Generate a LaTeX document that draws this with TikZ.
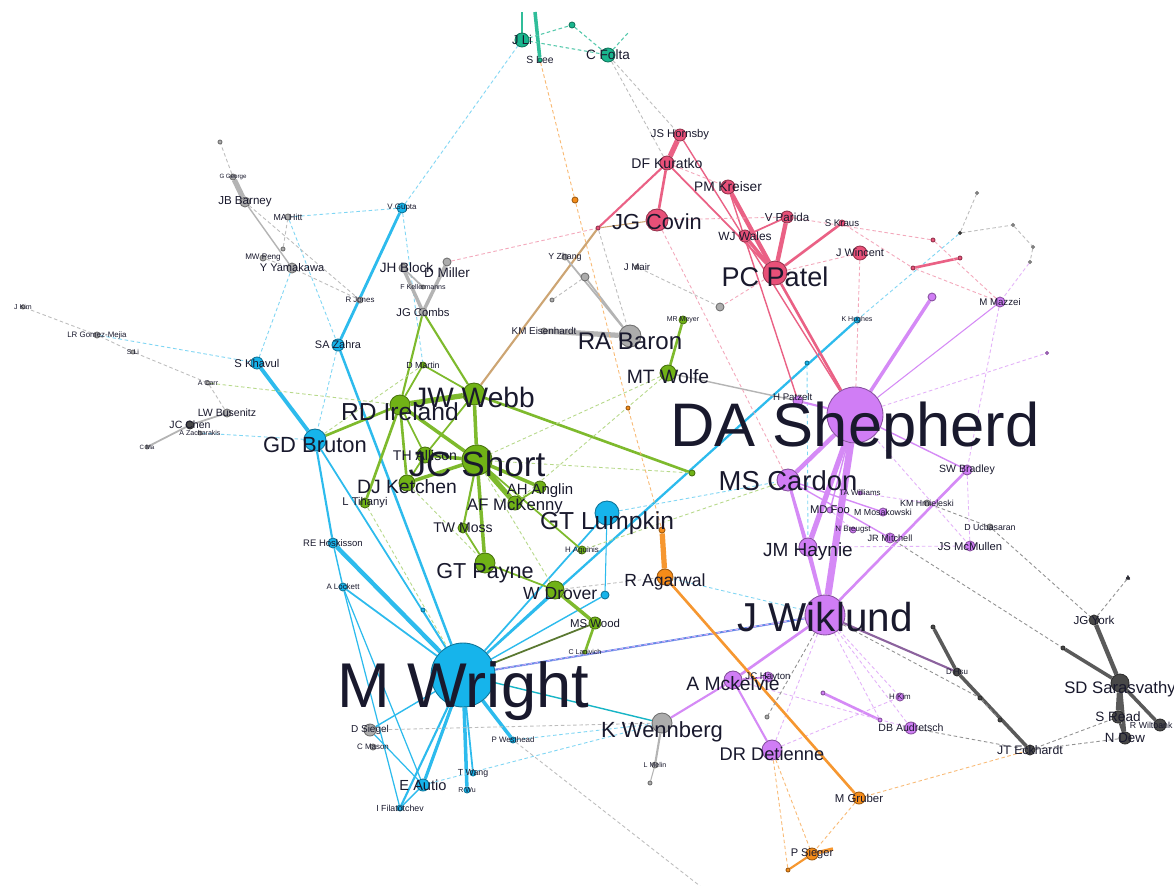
\documentclass[tikz,border=0pt]{standalone}
\usepackage{fontspec}
\setmainfont{Liberation Sans}
\usetikzlibrary{backgrounds}

\definecolor{cblue}{RGB}{22,180,235}
\definecolor{cgreen}{RGB}{112,178,22}
\definecolor{cpink}{RGB}{232,80,120}
\definecolor{cpurp}{RGB}{208,125,245}
\definecolor{cgrey}{RGB}{172,172,172}
\definecolor{cdark}{RGB}{72,72,72}
\definecolor{cteal}{RGB}{25,182,142}
\definecolor{corng}{RGB}{245,140,25}
\definecolor{ctan}{RGB}{205,165,115}
\definecolor{croyal}{RGB}{95,135,230}
\definecolor{ink}{RGB}{25,25,45}

\tikzset{
  vtx/.style={circle, inner sep=0pt, line width=0.5pt, minimum size=#1*0.04cm},
  bn/.style={vtx=#1, fill=cblue, draw=cblue!65!black},
  gn/.style={vtx=#1, fill=cgreen, draw=cgreen!65!black},
  pn/.style={vtx=#1, fill=cpink, draw=cpink!65!black},
  un/.style={vtx=#1, fill=cpurp, draw=cpurp!65!black},
  kn/.style={vtx=#1, fill=cgrey, draw=cgrey!65!black},
  dn/.style={vtx=#1, fill=cdark, draw=cdark!65!black},
  tn/.style={vtx=#1, fill=cteal, draw=cteal!65!black},
  orn/.style={vtx=#1, fill=corng, draw=corng!65!black},
  lab/.style={font=\fontsize{#1}{#1}\selectfont, text=ink, inner sep=0pt},
  be/.style={draw=cblue!90, line width=#1}, be/.default=0.8pt,
  ge/.style={draw=cgreen!90, line width=#1}, ge/.default=0.8pt,
  pe/.style={draw=cpink!90, line width=#1}, pe/.default=0.8pt,
  ue/.style={draw=cpurp!90, line width=#1}, ue/.default=0.8pt,
  oe/.style={draw=corng!90, line width=#1}, oe/.default=0.8pt,
  ke/.style={draw=cgrey!90, line width=#1}, ke/.default=0.8pt,
  de/.style={draw=cdark!90, line width=#1}, de/.default=0.8pt,
  te/.style={draw=cteal!90, line width=#1}, te/.default=0.8pt,
  bd/.style={draw=cblue!55, line width=0.5pt, dash pattern=on 2pt off 1.5pt},
  gd/.style={draw=cgreen!50, line width=0.5pt, dash pattern=on 2pt off 1.5pt},
  pd/.style={draw=cpink!50, line width=0.5pt, dash pattern=on 2pt off 1.5pt},
  ud/.style={draw=cpurp!60, line width=0.5pt, dash pattern=on 2pt off 1.5pt},
  od/.style={draw=corng!60, line width=0.5pt, dash pattern=on 2pt off 1.5pt},
  kd/.style={draw=cgrey!80, line width=0.5pt, dash pattern=on 2pt off 1.5pt},
  dd/.style={draw=cdark!60, line width=0.5pt, dash pattern=on 2pt off 1.5pt},
  td/.style={draw=cteal!75, line width=0.6pt, dash pattern=on 2pt off 1.5pt},
}

\begin{document}
\begin{tikzpicture}[x=0.02cm, y=-0.02cm]
\useasboundingbox (0,0) rectangle (1174,886);

% Left scatter
\node[kn=2, label={[lab=4]center:J Kim}] (x1) at (23,307) {};
\node[kn=3, label={[lab=4.5]center:LR Gomez-Mejia}] (x2) at (97,335) {};
\node[kn=2, label={[lab=4]center:S Li}] (x3) at (133,352) {};
\node[kn=2, label={[lab=4]center:A Carr}] (x4) at (208,383) {};
\node[kn=4, label={[lab=6]center:LW Busenitz}] (lwb) at (227,413) {};
\node[dn=4, label={[lab=6]center:JC Chen}] (jcc) at (190,425) {};
\node[kn=2, label={[lab=4]center:A Zacharakis}] (x5) at (200,433) {};
\node[kn=2, label={[lab=3.5]center:C Ma}] (x6) at (147,447) {};

% Top left
\node[kn=2] (x7) at (220,142) {};
\node[kn=3, label={[lab=3.5]center:G George}] (x8) at (233,177) {};
\node[kn=5, label={[lab=6.6]center:JB Barney}] (jbb) at (245,202) {};
\node[kn=3, label={[lab=5]center:MA Hitt}] (mah) at (288,217) {};
\node[kn=2] (x9) at (283,249) {};
\node[kn=3, label={[lab=4.6]center:MW Peng}] (mwp) at (263,258) {};
\node[kn=5, label={[lab=6.3]center:Y Yamakawa}] (yya) at (292,268) {};
\node[kn=3, label={[lab=4.5]center:R Jones}] (x15) at (360,300) {};
\node[kn=4, label={[lab=7.7,xshift=2pt]center:JH Block}] (jhb) at (403,268) {};
\node[kn=4, label={[lab=7.7,yshift=-6pt]center:D Miller}] (dmi) at (447,262) {};
\node[kn=2, label={[lab=4]center:F Kellermanns}] (x20) at (423,287) {};
\node[kn=4, label={[lab=6.4]center:JG Combs}] (jgb) at (423,312) {};

% Top teal
\node[tn=7, label={[lab=7.3]center:J Li}] (jli) at (522,40) {};
\node[tn=2, label={[lab=5.9]center:S Lee}] (sle) at (540,60) {};
\node[tn=3] (x26) at (572,25) {};
\node[tn=7, label={[lab=7.7]center:C Folta}] (cfo) at (608,55) {};
\coordinate (t1) at (522,12);
\coordinate (t2) at (535,12);
\coordinate (t3) at (628,33);

% Blue small
\node[bn=5, label={[lab=4.5]center:V Gupta}] (vg) at (402,208) {};
\node[bn=6, label={[lab=6.2]center:SA Zahra}] (saz) at (338,345) {};
\node[bn=6, label={[lab=6.4]center:S Khavul}] (skh) at (257,363) {};
\node[bn=5, label={[lab=5.4]center:RE Hoskisson}] (reh) at (333,543) {};
\node[bn=4, label={[lab=4.5]center:A Lockett}] (alk) at (343,587) {};
\node[bn=2] (x14) at (423,610) {};
\node[kn=6, label={[lab=5.7]center:D Siegel}] (dsi) at (370,730) {};
\node[kn=3, label={[lab=4.5]center:C Mason}] (cma) at (373,747) {};
\node[bn=6, label={[lab=8.3]center:E Autio}] (eau) at (423,785) {};
\node[bn=3, label={[lab=5]center:I Filatotchev}] (ifi) at (400,808) {};
\node[bn=3, label={[lab=5]center:T Wang}] (twa) at (473,773) {};
\node[bn=3, label={[lab=4]center:R Wu}] (x10) at (467,790) {};
\node[bn=3, label={[lab=4.5]center:P Westhead}] (pwe) at (513,740) {};
\node[bn=4] (x11) at (605,595) {};
\node[bn=3, label={[lab=4]center:K Hughes}] (x12) at (857,320) {};
\node[bn=2] (x13) at (807,363) {};
\coordinate (t4) at (700,886);

% Green small
\node[gn=3, label={[lab=5]center:D Martin}] (x16) at (423,365) {};
\node[gn=5, label={[lab=6.4]center:L Tihanyi}] (lti) at (365,503) {};
\node[gn=8, label={[lab=8]center:TH Allison}] (tha) at (425,455) {};
\node[gn=5, label={[lab=8]center:TW Moss}] (twm) at (463,528) {};
\node[gn=7, label={[lab=9.5,yshift=-2pt]center:AF McKenny}] (afm) at (515,503) {};
\node[gn=6, label={[lab=8.5,yshift=-2pt]center:AH Anglin}] (aha) at (540,487) {};
\node[gn=4, label={[lab=4.5]center:H Aguinis}] (hag) at (582,550) {};
\node[gn=6, label={[lab=6.5]center:MS Wood}] (msw) at (595,623) {};
\node[gn=2, label={[lab=4]center:C Lanivich}] (x17) at (585,652) {};
\node[gn=3] (x18) at (692,473) {};
\node[gn=4, label={[lab=4]center:MR Meyer}] (x19) at (683,320) {};

% Grey middle
\node[kn=3, label={[lab=5.6]center:KM Eisenhardt}] (kme) at (544,331) {};
\node[kn=4] (x21) at (585,277) {};
\node[kn=3, label={[lab=5]center:Y Zhang}] (yzh) at (565,257) {};
\node[kn=2, label={[lab=5.5]center:J Mair}] (jma) at (637,267) {};
\node[kn=4] (x22) at (720,307) {};
\node[kn=2] (x23) at (552,300) {};
\node[kn=3, label={[lab=4]center:L Melin}] (x24) at (655,765) {};
\node[kn=2] (x25) at (650,783) {};

% Orange
\node[orn=3] (x27) at (575,200) {};
\node[orn=2] (x28) at (628,408) {};
\node[orn=3] (x29) at (662,530) {};
\node[orn=6, label={[lab=6.5]center:M Gruber}] (mgr) at (859,798) {};
\node[orn=6, label={[lab=6.3]center:P Sieger}] (psi) at (812,854) {};
\node[orn=2] (x30) at (788,870) {};
\coordinate (x31) at (833,849);

% Pink
\node[pn=2] (x32) at (598,228) {};
\node[pn=6, label={[lab=6.4]center:JS Hornsby}] (jsh) at (680,135) {};
\node[pn=7, label={[lab=8]center:DF Kuratko}] (dfk) at (667,163) {};
\node[pn=7, label={[lab=7.8]center:PM Kreiser}] (pmk) at (728,187) {};
\node[pn=6, label={[lab=6.6]center:V Parida}] (vpa) at (787,217) {};
\node[pn=6, label={[lab=6.8]center:WJ Wales}] (wjw) at (745,236) {};
\node[pn=3, label={[lab=5.5]center:S Kraus}] (skr) at (842,223) {};
\node[pn=7, label={[lab=6.2]center:J Wincent}] (jwi) at (860,253) {};
\node[pn=2] (x33) at (913,268) {};
\node[pn=2] (x34) at (960,258) {};
\node[pn=2] (x35) at (933,240) {};

% Purple small
\node[un=5, label={[lab=5.5,xshift=-3pt,yshift=2pt]center:H Patzelt}] (hpa) at (798,401) {};
\node[un=4] (x36) at (932,297) {};
\node[un=5, label={[lab=5.5]center:M Mazzei}] (mma) at (1000,302) {};
\node[un=2, label={[lab=4.5]center:TA Williams}] (taw) at (860,493) {};
\node[un=3, label={[lab=6.4]center:MD Foo}] (mdf) at (830,510) {};
\node[un=4, label={[lab=5]center:M Mosakowski}] (mmo) at (883,512) {};
\node[un=3, label={[lab=4.5]center:N Breugst}] (nbr) at (853,530) {};
\node[un=5, label={[lab=5.2]center:JR Mitchell}] (jrm) at (890,538) {};
\node[kn=3, label={[lab=5]center:KM Hmieleski}] (kmh) at (927,503) {};
\node[kn=3, label={[lab=5]center:D Ucbasaran}] (duc) at (990,527) {};
\node[un=5, label={[lab=6]center:SW Bradley}] (swb) at (967,470) {};
\node[un=5, label={[lab=6.4]center:JS McMullen}] (jsm) at (970,546) {};
\node[un=5, label={[lab=5.5]center:JC Hayton}] (jch) at (768,677) {};
\node[kn=2] (x37) at (767,717) {};
\node[un=2] (x38) at (823,693) {};
\node[un=4, label={[lab=4.5]center:H Kim}] (hki) at (900,697) {};
\node[un=2] (x39) at (880,720) {};
\node[un=6, label={[lab=6]center:DB Audretsch}] (dba) at (911,728) {};
\node[un=1.5] (x51) at (1047,353) {};

% Dark cluster
\node[dn=2] (x40) at (933,627) {};
\node[dn=4, label={[lab=4.5]center:D Hsu}] (x41) at (957,672) {};
\node[dn=2] (x42) at (980,698) {};
\node[dn=2] (x43) at (1000,720) {};
\node[dn=2] (x44) at (1063,648) {};
\node[dn=1.5, label={[lab=4]center:A}] (x45) at (1128,578) {};
\node[dn=1.5] (x46) at (960,233) {};
\node[kn=1.5] (x47) at (977,193) {};
\node[kn=1.5] (x48) at (1013,225) {};
\node[kn=1.5] (x49) at (1033,247) {};
\node[kn=1.5] (x50) at (1030,262) {};
\node[dn=5, label={[lab=7]center:JT Eckhardt}] (jte) at (1030,750) {};
\node[dn=5, label={[lab=6.6]center:JG York}] (jgy) at (1094,620) {};
\node[dn=6, label={[lab=7.6]center:N Dew}] (nde) at (1125,738) {};
\node[dn=6, label={[lab=5,xshift=-5pt]center:R Wiltbank}] (rwi) at (1160,725) {};
\node[dn=6, label={[lab=7.7]center:S Read}] (sre) at (1118,717) {};
\node[dn=9, label={[lab=9.5,yshift=-3.5pt]center:SD Sarasvathy}] (sds) at (1120,683) {};

% Mid-size nodes
\node[gn=8, label={[lab=11,yshift=-2pt]center:MT Wolfe}] (mtw) at (668,373) {};
\node[kn=11, label={[lab=13.7,yshift=-3pt]center:RA Baron}] (rab) at (630,336) {};
\node[pn=11, label={[lab=12.4,yshift=-1pt]center:JG Covin}] (jgc) at (657,220) {};
\node[pn=12, label={[lab=15.4,yshift=-2pt]center:PC Patel}] (pcp) at (775,273) {};
\node[orn=8, label={[lab=10,yshift=-3pt]center:R Agarwal}] (rag) at (665,577) {};
\node[kn=10, label={[lab=12.5,yshift=-5pt]center:K Wennberg}] (kwe) at (662,723) {};
\node[un=9, label={[lab=11,yshift=-2pt]center:A Mckelvie}] (amk) at (733,680) {};
\node[un=10, label={[lab=10.4,yshift=-2pt]center:DR Detienne}] (drd) at (772,750) {};
\node[un=9, label={[lab=10.8,yshift=-2.5pt]center:JM Haynie}] (jmh) at (808,547) {};
\node[un=11, label={[lab=15.6,yshift=-0.5pt]center:MS Cardon}] (msc) at (788,480) {};
\node[gn=9, label={[lab=10,xshift=3pt,yshift=-2pt]center:W Drover}] (wdr) at (555,590) {};
\node[gn=10, label={[lab=12.3,yshift=-6pt]center:GT Payne}] (gtp) at (485,563) {};
\node[gn=8, label={[lab=11,yshift=-2pt]center:DJ Ketchen}] (djk) at (407,483) {};
\node[gn=10, label={[lab=14,yshift=-4pt]center:RD Ireland}] (rdi) at (400,405) {};
\node[bn=11, label={[lab=12.5,yshift=-3pt]center:GD Bruton}] (gdb) at (315,440) {};
\node[gn=11, label={[lab=16,yshift=-2pt]center:JW Webb}] (jww) at (474,394) {};
\node[bn=12, label={[lab=14,yshift=-6pt]center:GT Lumpkin}] (gtl) at (607,513) {};

% Big nodes
\node[gn=15, label={[lab=20,yshift=-2pt]center:JC Short}] (jcs) at (477,460) {};
\node[un=20, label={[lab=23,yshift=-1pt]center:J Wiklund}] (jwk) at (825,615) {};
\node[un=28, label={[lab=35,yshift=-9pt]center:DA Shepherd}] (das) at (855,415) {};
\node[bn=32, label={[lab=36,yshift=-9pt]center:M Wright}] (mw) at (463,675) {};

\begin{pgfonlayer}{background}
  \fill[white] (0,0) rectangle (1174,886);

  % Blue edges
  \draw[be=2.2pt] (skh) -- (gdb);
  \draw[be=1.2pt] (gdb) -- (reh);
  \draw[be=1pt] (gdb) -- (mw);
  \draw[be=2.5pt] (reh) -- (mw);
  \draw[be=0.8pt] (reh) -- (alk);
  \draw[be=1pt] (alk) -- (mw);
  \draw[be=0.7pt] (alk) -- (eau);
  \draw[be=0.7pt] (alk) -- (ifi);
  \draw[be=1.6pt] (saz) -- (vg);
  \draw[be=1.4pt] (saz) -- (mw);
  \draw[be=1.8pt] (mw) -- (eau);
  \draw[be=1.2pt] (mw) -- (ifi);
  \draw[be=2pt] (mw) -- (x10);
  \draw[be=1pt] (mw) -- (twa);
  \draw[be=2pt] (mw) -- (pwe);
  \draw[be=0.8pt] (mw) -- (dsi);
  \draw[be=0.7pt] (dsi) -- (eau);
  \draw[be=0.8pt] (eau) -- (ifi);
  \draw[be=1pt] (mw) -- (wdr);
  \draw[be=1pt] (mw) -- (gtl);
  \draw[be=0.8pt] (mw) -- (x11);
  \draw[be=0.6pt] (gtl) -- (x11);
  \draw[be=1.3pt] (mw) -- (x12);
  \draw[be=0.6pt] (mw) -- (x14);
  \draw[croyal, line width=1.1pt] (mw) -- (jwk);
  \draw[be=0.8pt, draw=cblue!60!cteal] (mw) -- (kwe);
  \draw[bd] (vg) -- (jli);
  \draw[bd] (vg) -- (mah);
  \draw[bd] (x2) -- (skh);
  \draw[bd] (x5) -- (gdb);
  \draw[bd] (yya) -- (skh);
  \draw[bd] (mah) -- (saz);
  \draw[bd] (saz) -- (gdb);
  \draw[bd] (vg) -- (x16);
  \draw[bd] (eau) -- (kwe);
  \draw[bd] (pwe) -- (kwe);
  \draw[bd] (rag) -- (jwk);
  \draw[bd] (x46) -- (x12);
  \draw[bd] (gtl) -- (msc);
  \draw[bd] (x13) -- (jmh);

  % Green edges
  \draw[ge=3pt] (jww) -- (rdi);
  \draw[ge=2pt] (jww) -- (jcs);
  \draw[ge=2pt] (rdi) -- (jcs);
  \draw[ge=1.5pt] (rdi) -- (djk);
  \draw[ge=2pt] (jcs) -- (djk);
  \draw[ge=2pt] (jcs) -- (tha);
  \draw[ge=3pt] (jcs) -- (afm);
  \draw[ge=2pt] (jcs) -- (aha);
  \draw[ge=2pt] (jcs) -- (gtp);
  \draw[ge=1.2pt] (jcs) -- (twm);
  \draw[ge=1pt] (gtp) -- (wdr);
  \draw[ge=2pt] (wdr) -- (msw);
  \draw[ge=1.5pt] (msw) -- (x17);
  \draw[ge=1.5pt] (jww) -- (x18);
  \draw[ge=1.2pt] (jww) -- (jgb);
  \draw[ge=1.2pt] (rdi) -- (jgb);
  \draw[ge=1pt] (jww) -- (x16);
  \draw[ge=1pt] (rdi) -- (x16);
  \draw[ge=1.5pt] (gdb) -- (rdi);
  \draw[ge=1.5pt] (rdi) -- (lti);
  \draw[ge=1.5pt] (mtw) -- (x19);
  \draw[ge=1pt] (jcs) -- (hag);
  \draw[ge=1pt] (rdi) -- (tha);
  \draw[ge=1pt] (jww) -- (tha);
  \draw[ge=1pt] (afm) -- (aha);
  \draw[ge=1pt] (twm) -- (gtp);
  \draw[ge=1pt] (djk) -- (tha);
  \draw[ge=1pt, draw=cgreen!45!cdark] (mw) -- (msw);
  \draw[gd] (mtw) -- (jcs);
  \draw[gd] (mtw) -- (afm);
  \draw[gd] (x18) -- (jcs);
  \draw[gd] (jcs) -- (wdr);
  \draw[gd] (gdb) -- (x16);
  \draw[gd] (x4) -- (rdi);
  \draw[gd] (djk) -- (gtp);
  \draw[gd] (lti) -- (mw);
  \draw[gd] (hag) -- (msc);

  % Tan and grey edges
  \draw[ctan, line width=1.2pt] (jww) -- (x32);
  \draw[ctan, line width=0.6pt] (x32) -- (jgc);
  \draw[ke=3pt] (rab) -- (kme);
  \draw[ke=1pt] (rab) -- (x21);
  \draw[ke=1pt] (rab) -- (yzh);
  \draw[ke=2pt] (jhb) -- (jgb);
  \draw[ke=2pt] (dmi) -- (jgb);
  \draw[ke=1pt] (jhb) -- (x20);
  \draw[ke=3pt] (jbb) -- (x8);
  \draw[ke=0.8pt] (jbb) -- (yya);
  \draw[ke=1.2pt] (kwe) -- (x24);
  \draw[ke=0.6pt] (x24) -- (x25);
  \draw[ke=1pt] (jcc) -- (x6);
  \draw[ke=1pt] (jcc) -- (lwb);
  \draw[ke=0.8pt] (mtw) -- (hpa);
  \draw[kd] (x1) -- (x2);
  \draw[kd] (x2) -- (x3);
  \draw[kd] (x3) -- (x4);
  \draw[kd] (x4) -- (lwb);
  \draw[kd] (x8) -- (x7);
  \draw[kd] (jbb) -- (x15);
  \draw[kd] (mwp) -- (yya);
  \draw[kd] (x9) -- (mah);
  \draw[kd] (yya) -- (x15);
  \draw[kd] (cfo) -- (jsh);
  \draw[kd] (cfo) -- (dfk);
  \draw[kd] (x32) -- (rab);
  \draw[kd] (dsi) -- (kwe);
  \draw[kd] (pwe) -- (t4);
  \draw[kd] (jma) -- (x22);
  \draw[kd] (x23) -- (x21);
  \draw[kd] (x46) -- (x47);
  \draw[kd] (x46) -- (x48);
  \draw[kd] (x48) -- (x49);
  \draw[kd] (x49) -- (x50);
  \draw[kd] (wdr) -- (rag);
  \draw[kd] (kwe) -- (amk);

  % Teal edges
  \draw[te=1pt] (jli) -- (t1);
  \draw[te=2pt] (sle) -- (t2);
  \draw[td] (jli) -- (cfo);
  \draw[td] (jli) -- (x26);
  \draw[td] (x26) -- (cfo);
  \draw[td] (cfo) -- (t3);

  % Pink edges
  \draw[pe=3pt] (dfk) -- (jsh);
  \draw[pe=1.5pt] (dfk) -- (jgc);
  \draw[pe=1pt] (dfk) -- (pcp);
  \draw[pe=1.2pt] (dfk) -- (x32);
  \draw[pe=2.5pt] (pmk) -- (pcp);
  \draw[pe=2.5pt] (vpa) -- (pcp);
  \draw[pe=2pt] (wjw) -- (pcp);
  \draw[pe=1.5pt] (skr) -- (pcp);
  \draw[pe=1pt] (vpa) -- (wjw);
  \draw[pe=1.5pt] (pcp) -- (das);
  \draw[pe=0.8pt] (jsh) -- (das);
  \draw[pe=0.8pt] (pmk) -- (hpa);
  \draw[pe=1.5pt] (x33) -- (x34);
  \draw[pd] (jgc) -- (vpa);
  \draw[pd] (skr) -- (x33);
  \draw[pd] (x33) -- (mma);
  \draw[pd] (dmi) -- (x32);
  \draw[pd] (jwi) -- (das);
  \draw[pd] (pcp) -- (jwi);
  \draw[pd] (vpa) -- (x35);
  \draw[pd] (x35) -- (mma);
  \draw[pd] (dfk) -- (pmk);
  \draw[pd] (jgc) -- (msc);
  \draw[pd] (pcp) -- (x22);

  % Purple edges
  \draw[ue=4pt] (das) -- (jwk);
  \draw[ue=2.5pt] (das) -- (msc);
  \draw[ue=3pt] (das) -- (jmh);
  \draw[ue=1.2pt] (das) -- (hpa);
  \draw[ue=0.8pt] (das) -- (swb);
  \draw[ue=2pt] (das) -- (x36);
  \draw[ue=0.6pt] (das) -- (mma);
  \draw[ue=1.5pt] (jwk) -- (amk);
  \draw[ue=1.2pt] (amk) -- (drd);
  \draw[ue=1.5pt] (jwk) -- (swb);
  \draw[ue=1.5pt] (msc) -- (jmh);
  \draw[ue=2pt] (jmh) -- (jwk);
  \draw[ue=1.5pt] (msc) -- (jwk);
  \draw[ue=1.2pt] (amk) -- (kwe);
  \draw[ue=1pt] (amk) -- (jch);
  \draw[ue=1.5pt] (x38) -- (x39);
  \draw[ue=0.8pt] (das) -- (mdf);
  \draw[ue=0.8pt] (msc) -- (jrm);
  \draw[ue=0.8pt] (msc) -- (mmo);
  \draw[ue=1.2pt, draw=cpurp!50!cdark] (jwk) -- (x41);
  \draw[ud] (das) -- (jsm);
  \draw[ud] (jwk) -- (hki);
  \draw[ud] (jwk) -- (dba);
  \draw[ud] (jwk) -- (drd);
  \draw[ud] (jwk) -- (x39);
  \draw[ud] (jmh) -- (jsm);
  \draw[ud] (swb) -- (jsm);
  \draw[ud] (mma) -- (swb);
  \draw[ud] (amk) -- (dba);
  \draw[ud] (drd) -- (hki);
  \draw[ud] (das) -- (x51);
  \draw[ud] (x50) -- (mma);
  \draw[ud] (mdf) -- (nbr);
  \draw[ud] (taw) -- (kmh);
  \draw[ud] (jwk) -- (mw);

  % Orange edges
  \draw[oe=3pt] (x29) -- (rag);
  \draw[oe=1.5pt] (rag) -- (mgr);
  \draw[oe=2pt] (psi) -- (x31);
  \draw[oe=1.2pt] (psi) -- (x30);
  \draw[od] (mgr) -- (psi);
  \draw[od] (x28) -- (x29);
  \draw[od] (sle) -- (x27);
  \draw[od] (x27) -- (x28);
  \draw[od] (mgr) -- (jte);
  \draw[od] (drd) -- (psi);
  \draw[od] (drd) -- (x30);

  % Dark edges
  \draw[de=2.5pt] (sds) -- (jgy);
  \draw[de=3pt] (sds) -- (sre);
  \draw[de=2pt] (sds) -- (nde);
  \draw[de=2pt] (sds) -- (rwi);
  \draw[de=2pt] (sds) -- (x44);
  \draw[de=1.5pt] (sre) -- (nde);
  \draw[de=2pt] (x40) -- (x41);
  \draw[de=2pt] (x41) -- (jte);
  \draw[dd] (jte) -- (sre);
  \draw[dd] (jte) -- (nde);
  \draw[dd] (jgy) -- (x45);
  \draw[dd] (jwk) -- (x42);
  \draw[dd] (x42) -- (x43);
  \draw[dd] (jrm) -- (x44);
  \draw[dd] (duc) -- (jgy);
  \draw[dd] (dba) -- (jte);
  \draw[dd] (kmh) -- (duc);
  \draw[dd] (jwk) -- (x37);
\end{pgfonlayer}
\end{tikzpicture}
\end{document}
